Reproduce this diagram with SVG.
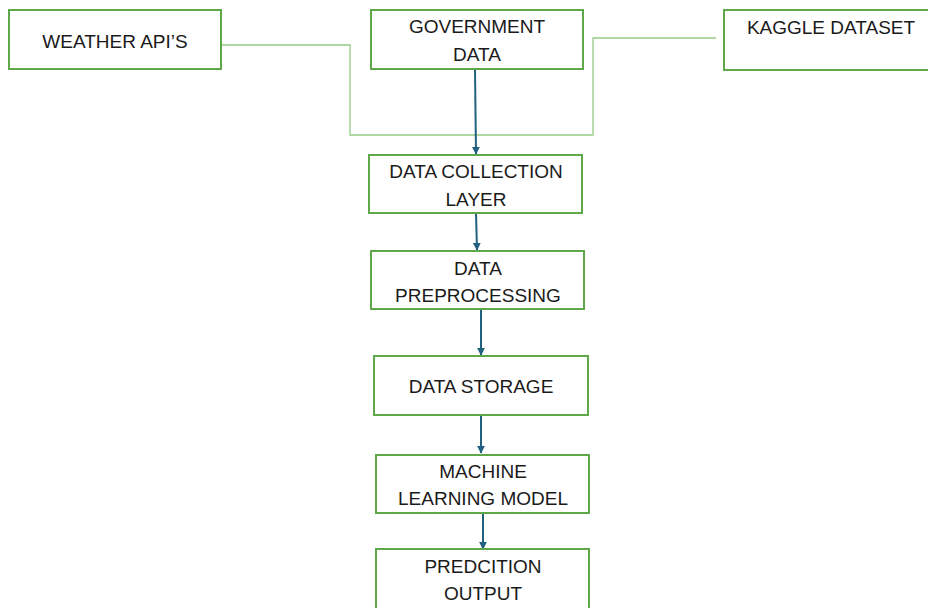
<svg xmlns="http://www.w3.org/2000/svg" width="928" height="608" viewBox="0 0 928 608">
<style>
.box{fill:#fff;stroke:#5ea84a;stroke-width:2}
.t{font-family:"Liberation Sans",Arial,sans-serif;font-size:19px;fill:#1a1a1a;text-anchor:middle}
.feed{fill:none;stroke:#97cc85;stroke-width:1.3}
.arr{fill:none;stroke:#21607e;stroke-width:2;marker-end:url(#ah)}
</style>
<defs>
<marker id="ah" viewBox="0 0 10 10" refX="9" refY="5" markerWidth="4" markerHeight="4" orient="auto" markerUnits="strokeWidth">
<path d="M0,0 L10,5 L0,10 z" fill="#21607e"/>
</marker>
</defs>
<rect width="928" height="608" fill="#fff"/>
<g id="connectors">
<polyline class="feed" points="221,45 350,45 350,135 593,135 593,38 716,38"/>
<line class="arr" x1="475" y1="69" x2="476" y2="154"/>
<line class="arr" x1="476" y1="213" x2="477" y2="250"/>
<line class="arr" x1="481" y1="309" x2="481" y2="355"/>
<line class="arr" x1="481" y1="415" x2="481" y2="453"/>
<line class="arr" x1="483" y1="513" x2="483" y2="549"/>
</g>
<g id="weather">
<rect class="box" x="9" y="10" width="212" height="59"/>
<text class="t" x="115" y="48">WEATHER API’S</text>
</g>
<g id="government">
<rect class="box" x="371" y="10" width="212" height="59"/>
<text class="t" x="477" y="33">GOVERNMENT</text>
<text class="t" x="477" y="61">DATA</text>
</g>
<g id="kaggle">
<rect class="box" x="724" y="10" width="212" height="60"/>
<text class="t" x="831" y="34">KAGGLE DATASET</text>
</g>
<g id="collection">
<rect class="box" x="369" y="155" width="213" height="58"/>
<text class="t" x="476" y="178">DATA COLLECTION</text>
<text class="t" x="476" y="206">LAYER</text>
</g>
<g id="preprocessing">
<rect class="box" x="371" y="251" width="213" height="58"/>
<text class="t" x="478" y="275">DATA</text>
<text class="t" x="478" y="302">PREPROCESSING</text>
</g>
<g id="storage">
<rect class="box" x="374" y="356" width="214" height="59"/>
<text class="t" x="481" y="393">DATA STORAGE</text>
</g>
<g id="ml">
<rect class="box" x="376" y="455" width="213" height="58"/>
<text class="t" x="483" y="478">MACHINE</text>
<text class="t" x="483" y="505">LEARNING MODEL</text>
</g>
<g id="prediction">
<rect class="box" x="376" y="549" width="213" height="62"/>
<text class="t" x="483" y="573">PREDCITION</text>
<text class="t" x="483" y="600">OUTPUT</text>
</g>
</svg>
